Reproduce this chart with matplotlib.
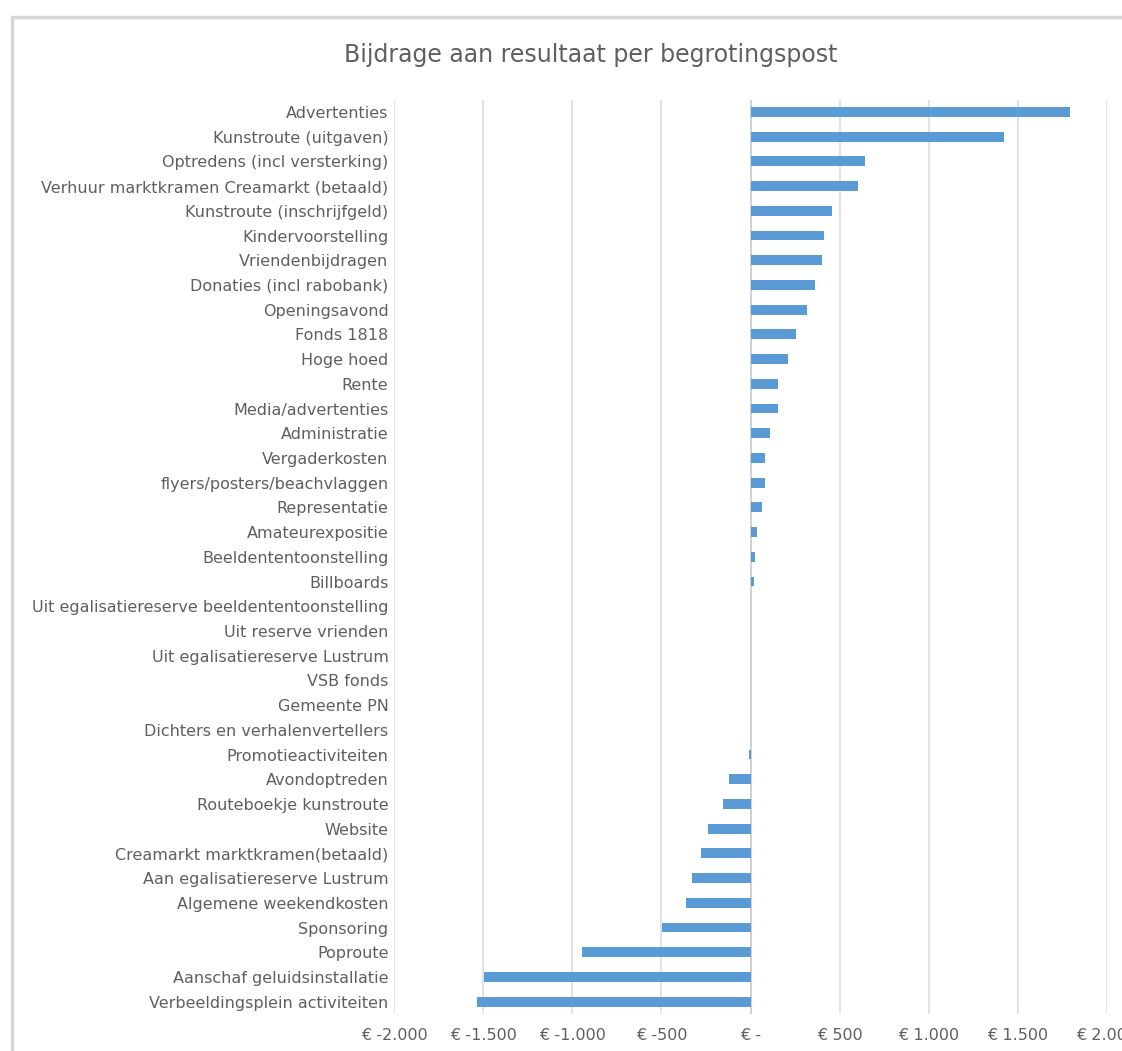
import matplotlib.pyplot as plt
from matplotlib.patches import Rectangle
from matplotlib.ticker import FuncFormatter, MultipleLocator

# Begrotingsposten, van boven naar beneden
posten = [
    'Advertenties', 'Kunstroute (uitgaven)', 'Optredens (incl versterking)',
    'Verhuur marktkramen Creamarkt (betaald)', 'Kunstroute (inschrijfgeld)',
    'Kindervoorstelling', 'Vriendenbijdragen', 'Donaties (incl rabobank)',
    'Openingsavond', 'Fonds 1818', 'Hoge hoed', 'Rente', 'Media/advertenties',
    'Administratie', 'Vergaderkosten', 'flyers/posters/beachvlaggen',
    'Representatie', 'Amateurexpositie', 'Beeldententoonstelling', 'Billboards',
    'Uit egalisatiereserve beeldententoonstelling', 'Uit reserve vrienden',
    'Uit egalisatiereserve Lustrum', 'VSB fonds', 'Gemeente PN',
    'Dichters en verhalenvertellers', 'Promotieactiviteiten', 'Avondoptreden',
    'Routeboekje kunstroute', 'Website', 'Creamarkt marktkramen(betaald)',
    'Aan egalisatiereserve Lustrum', 'Algemene weekendkosten', 'Sponsoring',
    'Poproute', 'Aanschaf geluidsinstallatie', 'Verbeeldingsplein activiteiten',
]

# Bijdrage in euro
bijdrage = [
    1790, 1420, 640, 605, 455, 410, 400, 360, 315, 258, 208, 152, 152,
    107, 79, 79, 62, 39, 28, 22,
    0, 0, 0, 0, 0, 0,
    -11, -118, -152, -236, -275, -326, -360, -495, -944, -1494, -1534,
]

blue = '#5B9BD5'
grey_text = '#5f5f5f'

fig = plt.figure(figsize=(11.22, 10.51), dpi=100)
W, H = 1122, 1051

# chart frame (cropped on the right/bottom in the original)
fig.patches.append(Rectangle((12 / W, -0.05), 1.2, (H - 17) / H + 0.05,
                             transform=fig.transFigure, fill=False,
                             edgecolor='#d6d6d2', linewidth=2.5))

ax = fig.add_axes([394 / W, (H - 1014) / H, (1107 - 394) / W, (1014 - 99.6) / H])

y = list(range(len(posten)))
ax.barh(y, bijdrage, height=0.4, color=blue, zorder=3)

ax.set_xlim(-2000, 2000)
ax.set_ylim(len(posten) - 0.5, -0.5)
ax.set_yticks(y)
ax.set_yticklabels(posten)

ax.xaxis.set_major_locator(MultipleLocator(500))


def euro(v, pos):
    if v == 0:
        return '€ -'
    return '€ ' + f'{int(v):,}'.replace(',', '.')


ax.xaxis.set_major_formatter(FuncFormatter(euro))
ax.grid(axis='x', color='#dadada', linewidth=1.1, zorder=0)
ax.axvline(0, color='#cccccc', linewidth=1.1, zorder=2)

for s in ax.spines.values():
    s.set_visible(False)
ax.tick_params(length=0, colors=grey_text, labelsize=11.5)
ax.tick_params(axis='y', pad=4)
ax.tick_params(axis='x', pad=10)
for lab in ax.get_xticklabels() + ax.get_yticklabels():
    lab.set_fontfamily('DejaVu Sans')

fig.text(591 / W, 1 - 55 / H, 'Bijdrage aan resultaat per begrotingspost',
         ha='center', va='center', fontsize=17, color=grey_text,
         fontfamily='DejaVu Sans')

fig.savefig('out.png', dpi=100)
